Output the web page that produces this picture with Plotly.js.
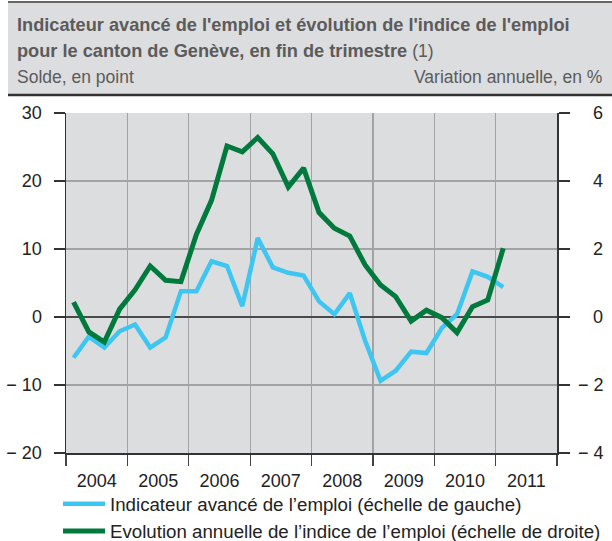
<!DOCTYPE html>
<html>
<head>
<meta charset="utf-8">
<script src="https://cdn.plot.ly/plotly-3.0.1.min.js"></script>
<style>html,body{margin:0;padding:0;background:#fff;}#chart{width:612px;height:541px;}</style>
</head>
<body>
<div id="chart"></div>
<script>
// ---- Data (quarterly, end of quarter, 2004 Q1 .. 2011 Q1) ----
const startYear = 2004;
const quarterMid = ["02-15", "05-16", "08-16", "11-15"];
const years = ["2004", "2005", "2006", "2007", "2008", "2009", "2010", "2011"];
// Indicateur avancé de l'emploi (solde, en point) - left scale
const indicateur = [-6.0, -2.9, -4.5, -2.1, -1.1, -4.5, -3.0, 3.8,
                    3.8, 8.2, 7.5, 1.6, 11.6, 7.3, 6.5, 6.1,
                    2.3, 0.4, 3.5, -3.5, -9.4, -7.9, -5.1, -5.3,
                    -1.6, 0.4, 6.7, 5.9, 4.4];
// Evolution annuelle de l'indice de l'emploi (%) - right scale
const evolution = [0.44, -0.44, -0.74, 0.23, 0.8, 1.5, 1.08, 1.04,
                   2.43, 3.43, 5.03, 4.86, 5.28, 4.8, 3.82, 4.38,
                   3.07, 2.61, 2.38, 1.53, 0.94, 0.6, -0.12, 0.2,
                   -0.02, -0.46, 0.3, 0.5, 2.02];
const leftTicks = [-20, -10, 0, 10, 20, 30];
const leftTickText = ["\u2212 20", "\u2212 10", "0", "10", "20", "30"];
const rightTicks = [-4, -2, 0, 2, 4, 6];
const rightTickText = ["\u2212 4", "\u2212 2", "\u2007\u20080", "\u2007\u20082", "\u2007\u20084", "\u2007\u20086"];
const seriesNames = ["Indicateur avancé de l\u2019emploi (échelle de gauche)",
                     "Evolution annuelle de l\u2019indice de l\u2019emploi (échelle de droite)"];

const xDates = indicateur.map((_, k) => `${startYear + Math.floor(k / 4)}-${quarterMid[k % 4]}`);

// ---- Layout helpers (pixel -> paper) ----
const W = 612, H = 541, ML = 66, MR = 55, MT = 113, MB = 88;
const PW = W - ML - MR, PH = H - MT - MB;
const px = x => (x - ML) / PW;
const py = y => (H - MB - y) / PH;

const FONT = "Liberation Sans, Arial, Helvetica, sans-serif";
const BAND = "rgb(220,221,223)";
const TITLE_COL = "#5b5b5b";

const traces = [
  {x: xDates, y: indicateur, name: seriesNames[0], type: "scatter", mode: "lines",
   line: {color: "#3ec6f2", width: 4.5}, yaxis: "y"},
  {x: xDates, y: evolution, name: seriesNames[1], type: "scatter", mode: "lines",
   line: {color: "#007a3c", width: 5}, yaxis: "y2"}
];

const layout = {
  width: W, height: H,
  margin: {l: ML, r: MR, t: MT, b: MB, pad: 0, autoexpand: false},
  paper_bgcolor: "#ffffff",
  plot_bgcolor: BAND,
  font: {family: FONT, size: 18, color: "#222"},
  showlegend: true,
  legend: {x: px(58), y: py(485), xanchor: "left", yanchor: "top", orientation: "v",
           itemwidth: 42, bgcolor: "rgba(0,0,0,0)", font: {family: FONT, size: 18.7, color: "#222"},
           tracegroupgap: 0, traceorder: "normal"},
  xaxis: {type: "date", range: ["2004-01-01", "2012-01-01"], tick0: "2004-01-01", dtick: "M12",
          tickformat: "%Y", ticklabelmode: "period", ticks: "outside", ticklen: 11,
          tickcolor: "#444", tickwidth: 1.2, showgrid: true, gridcolor: "#a3a3a3", gridwidth: 1.3,
          showline: true, linecolor: "#333", linewidth: 1.5, zeroline: false,
          tickfont: {family: FONT, size: 18, color: "#222"}, fixedrange: true},
  yaxis: {range: [-20, 30], tickvals: leftTicks, ticktext: leftTickText, ticks: "outside",
          ticklen: 11, tickcolor: "#333", tickwidth: 1.2, showgrid: true, gridcolor: "#a3a3a3",
          gridwidth: 1.3, zeroline: true, zerolinecolor: "#4a4a4a", zerolinewidth: 1.6,
          showline: true, linecolor: "#333", linewidth: 1.5, ticklabelstandoff: 8,
          tickfont: {family: FONT, size: 18, color: "#222"}, fixedrange: true},
  yaxis2: {range: [-4, 6], tickvals: rightTicks, ticktext: rightTickText, overlaying: "y",
           side: "right", ticks: "outside", ticklen: 11, tickcolor: "#333", tickwidth: 1.2,
           showgrid: false, zeroline: false, showline: true, linecolor: "#333", linewidth: 1.5,
           ticklabelstandoff: 5,
           tickfont: {family: FONT, size: 18, color: "#222"}, fixedrange: true},
  shapes: [
    {type: "rect", xref: "paper", yref: "paper", x0: px(8), x1: px(612), y0: py(95), y1: py(2),
     fillcolor: BAND, line: {width: 0}, layer: "below"},
    {type: "line", xref: "paper", yref: "paper", x0: px(8), x1: px(612), y0: py(2), y1: py(2),
     line: {color: "#666", width: 2}},
    {type: "line", xref: "paper", yref: "paper", x0: px(8), x1: px(612), y0: py(95), y1: py(95),
     line: {color: "#333", width: 2.5}}
  ],
  annotations: [
    {xref: "paper", yref: "paper", x: px(15), y: py(25), xanchor: "left", yanchor: "middle",
     showarrow: false, align: "left",
     text: "<b>Indicateur avancé de l'emploi et évolution de l'indice de l'emploi</b>",
     font: {family: FONT, size: 18.2, color: TITLE_COL}},
    {xref: "paper", yref: "paper", x: px(15), y: py(51), xanchor: "left", yanchor: "middle",
     showarrow: false, align: "left",
     text: "<b>pour le canton de Genève, en fin de trimestre</b> <span style='font-size:17.5px'>(1)</span>",
     font: {family: FONT, size: 18.2, color: TITLE_COL}},
    {xref: "paper", yref: "paper", x: px(15), y: py(77), xanchor: "left", yanchor: "middle",
     showarrow: false, align: "left", text: "Solde, en point",
     font: {family: FONT, size: 17.5, color: TITLE_COL}},
    {xref: "paper", yref: "paper", x: px(604), y: py(77), xanchor: "right", yanchor: "middle",
     showarrow: false, align: "right", text: "Variation annuelle, en %",
     font: {family: FONT, size: 17.5, color: TITLE_COL}}
  ]
};

Plotly.newPlot("chart", traces, layout, {displayModeBar: false, staticPlot: true});
</script>
</body>
</html>
